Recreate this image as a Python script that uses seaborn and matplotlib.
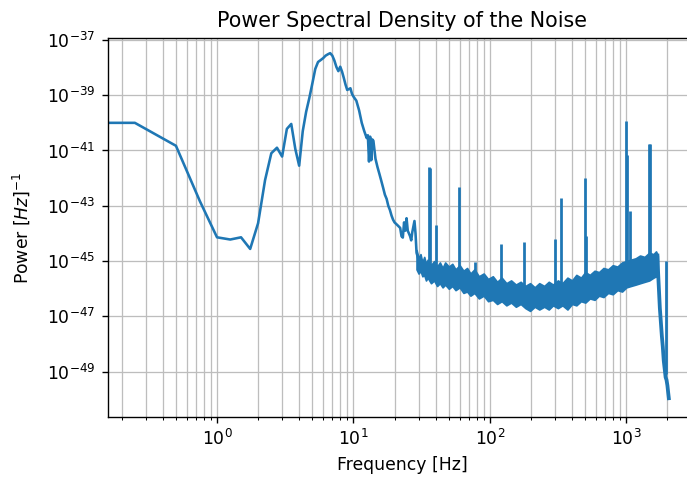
import numpy as np
import matplotlib
matplotlib.use("Agg")
import matplotlib.pyplot as plt
from matplotlib.ticker import NullLocator
import seaborn as sns

# low-frequency part of the spectrum: frequency [Hz] and log10(power)
freq_low = [0.0, 0.25, 0.5, 0.75, 1.0, 1.25, 1.5, 1.75, 2.0, 2.25, 2.5, 2.75,
            3.0, 3.25, 3.5, 3.75, 4.0, 4.25, 4.5, 4.75, 5.0, 5.25, 5.5, 5.75,
            6.0, 6.25, 6.5, 6.75, 7.0, 7.25, 7.5, 7.75, 8.0, 8.25, 8.5, 8.75,
            9.0, 9.25, 9.5, 9.75, 10.0, 10.5, 11.0, 11.5, 12.0, 12.5, 12.75,
            13.0, 13.25, 13.5, 13.75, 14.0, 14.5, 15.0, 15.5, 16.0, 16.5,
            17.0, 17.5, 18.0, 18.5, 19.0, 19.5, 20.0, 21.0, 22.0, 22.5, 23.0,
            23.5, 24.0, 24.5, 25.0, 26.0, 26.5, 27.0, 28.0, 28.5, 29.0, 30.0]
log_psd_low = [-40.0, -40.0, -40.83, -42.84, -44.14, -44.22, -44.14, -44.56,
               -43.63, -42.07, -41.10, -40.90, -41.22, -40.22, -40.04, -40.95,
               -41.55, -40.30, -39.60, -39.10, -38.57, -38.05, -37.80, -37.73,
               -37.66, -37.57, -37.52, -37.48, -37.57, -37.75, -37.98, -38.13,
               -37.97, -38.15, -38.38, -38.62, -38.81, -38.78, -38.75, -38.95,
               -39.05, -39.20, -39.55, -40.00, -40.30, -40.55, -40.45, -41.40,
               -40.50, -41.35, -40.60, -40.65, -41.30, -41.60, -41.85, -42.10,
               -42.35, -42.60, -42.75, -43.00, -43.15, -43.35, -43.50, -43.60,
               -43.70, -43.80, -44.10, -44.15, -43.60, -43.90, -43.45, -43.90,
               -44.10, -44.25, -43.95, -43.55, -44.00, -44.70, -44.95]

# broadband noise floor: lower and upper edge of the band
freq_band = [29, 30, 31, 32, 33, 34, 35, 37, 39, 41, 43, 45, 47, 50, 53, 56,
             60, 64, 68, 72, 77, 83, 90, 97, 105, 113, 122, 132, 143, 155, 168,
             182, 197, 213, 230, 250, 270, 290, 315, 340, 370, 400, 430, 465,
             500, 540, 585, 630, 680, 735, 795, 860, 930, 1000, 1080, 1170,
             1260, 1360, 1470, 1580, 1650, 1700]
log_band_high = [-44.60, -44.90, -44.75, -45.05, -44.85, -45.10, -44.95, -45.15,
                 -45.00, -45.20, -45.05, -45.25, -45.05, -45.20, -45.10, -45.30,
                 -45.15, -45.35, -45.25, -45.45, -45.30, -45.55, -45.45, -45.65,
                 -45.55, -45.75, -45.60, -45.80, -45.70, -45.85, -45.75, -45.90,
                 -45.80, -45.95, -45.80, -45.90, -45.75, -45.85, -45.70, -45.80,
                 -45.60, -45.70, -45.50, -45.60, -45.40, -45.50, -45.35, -45.40,
                 -45.25, -45.30, -45.15, -45.20, -45.05, -45.00, -44.95, -44.90,
                 -44.80, -44.85, -44.70, -44.75, -44.65, -44.80]
log_band_low = [-45.30, -45.45, -45.35, -45.55, -45.50, -45.70, -45.60, -45.80,
                -45.70, -45.90, -45.80, -45.95, -45.85, -46.00, -45.90, -46.05,
                -45.95, -46.15, -46.10, -46.25, -46.15, -46.35, -46.25, -46.45,
                -46.40, -46.55, -46.45, -46.60, -46.50, -46.65, -46.55, -46.70,
                -46.80, -46.65, -46.75, -46.65, -46.75, -46.60, -46.70, -46.60,
                -46.75, -46.55, -46.60, -46.45, -46.50, -46.35, -46.40, -46.25,
                -46.30, -46.15, -46.20, -46.05, -46.10, -45.95, -45.90, -45.85,
                -45.80, -45.75, -45.70, -45.60, -45.55, -45.60]

# roll-off towards 2048 Hz
freq_drop = [1690, 1705, 1720, 1740, 1760, 1790, 1820, 1850, 1880, 1910, 1940,
             1970, 2000, 2025, 2048]
log_psd_drop = [-44.80, -45.30, -45.70, -46.20, -46.70, -47.20, -47.70, -48.10,
                -48.60, -48.90, -49.20, -49.30, -49.50, -49.75, -49.96]

# narrow spectral lines: frequency, foot and peak (log10 power)
line_freq = [35.9, 36.6, 40.6, 59.5, 77.9, 120, 178, 300, 331, 499, 506,
             990, 1005, 1070, 1455, 1480, 1955]
line_foot = [-45.4, -45.4, -45.7, -45.9, -46.1, -46.4, -46.6, -46.6, -46.6,
             -46.3, -46.3, -45.9, -45.9, -45.8, -45.6, -45.6, -49.1]
line_peak = [-41.58, -41.65, -43.69, -42.31, -45.02, -44.38, -44.30, -44.21,
             -42.72, -42.00, -44.10, -39.92, -41.16, -43.20, -40.75, -40.75,
             -44.98]

blue = "#1f77b4"

fig = plt.figure(figsize=(687 / 124, 483 / 124), dpi=124)
ax = fig.add_axes([0.157, 0.136, 0.856, 0.786])

sns.lineplot(x=freq_low, y=10.0 ** np.array(log_psd_low), ax=ax, color=blue,
             lw=1.5, estimator=None, sort=False)
ax.fill_between(freq_band, 10.0 ** np.array(log_band_low),
                10.0 ** np.array(log_band_high), color=blue, lw=1.0, zorder=2)
sns.lineplot(x=freq_drop, y=10.0 ** np.array(log_psd_drop), ax=ax, color=blue,
             lw=2.2, estimator=None, sort=False)
ax.vlines(line_freq, 10.0 ** np.array(line_foot), 10.0 ** np.array(line_peak),
          color=blue, lw=1.6)

ax.set_xscale("log")
ax.set_yscale("log")
ax.set_xlim(10 ** -0.80, 10 ** 3.51)
ax.set_ylim(10 ** -50.65, 10 ** -36.92)
ax.set_yticks(10.0 ** np.arange(-49, -36, 2))
ax.yaxis.set_minor_locator(NullLocator())
ax.grid(True, which="both", color="#bdbdbd", lw=0.75)

ax.set_title("Power Spectral Density of the Noise")
ax.set_xlabel("Frequency [Hz]")
ax.set_ylabel("Power $[Hz]^{-1}$", labelpad=9)

fig.savefig("out.png", dpi=124)
